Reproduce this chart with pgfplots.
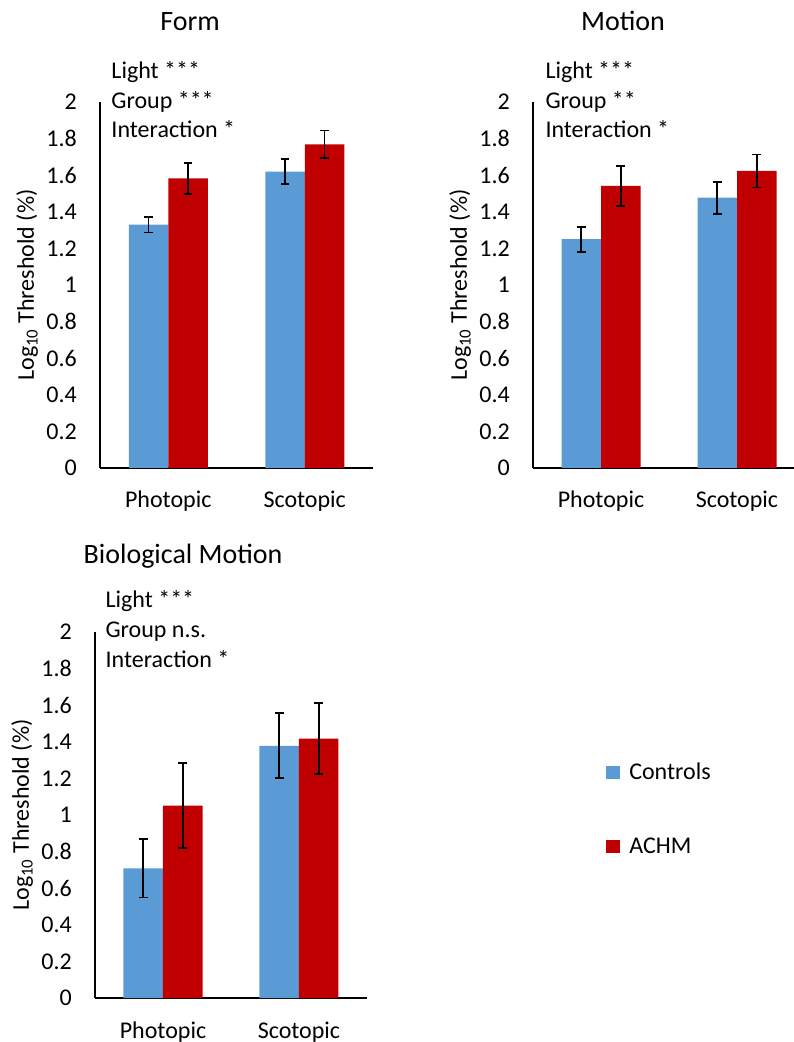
\documentclass[border=0pt]{standalone}
\usepackage{fontspec}
\setmainfont{Carlito}
\usepackage{pgfplots}
\pgfplotsset{compat=1.18}
\usepackage{pgfplotstable}

\definecolor{ctrl}{HTML}{5B9BD5}
\definecolor{achm}{HTML}{C00000}

% Form
\pgfplotstableread{
x y e
0 1.330 0.043
1 1.620 0.067
}\formC
\pgfplotstableread{
x y e
0 1.583 0.085
1 1.769 0.075
}\formA
% Motion
\pgfplotstableread{
x y e
0 1.250 0.068
1 1.477 0.087
}\motC
\pgfplotstableread{
x y e
0 1.541 0.110
1 1.623 0.090
}\motA
% Biological motion
\pgfplotstableread{
x y e
0 0.709 0.160
1 1.378 0.178
}\bioC
\pgfplotstableread{
x y e
0 1.051 0.233
1 1.418 0.196
}\bioA

\newcommand{\fs}{\fontsize{24}{29}\selectfont}
\newcommand{\ft}{\fontsize{28}{34}\selectfont}

\pgfplotsset{
  panel/.style={
    scale only axis, width=272pt, height=366pt, anchor=south west,
    xmin=-0.5, xmax=1.5, ymin=0, ymax=2,
    axis x line*=bottom, axis y line*=left,
    axis line style={-, line width=1.6pt, black},
    ytick={0,0.2,0.4,0.6,0.8,1,1.2,1.4,1.6,1.8,2},
    xtick={0,1}, xticklabels={Photopic,Scotopic},
    tick style={draw=none}, major tick length=0pt,
    tick label style={font=\fs},
    yticklabel style={anchor=east, inner sep=0pt, xshift=-23pt},
    xticklabel style={anchor=base, inner sep=0pt, yshift=-40pt},
    ylabel={Log\textsubscript{10} Threshold (\%)},
    ylabel style={font=\fs, anchor=center},
    title style={font=\ft, anchor=base},
    ybar=0pt, bar width=39.5pt,
    clip=false,
    /pgf/number format/assume math mode=true,
  },
  bars/.style={fill=#1, draw=none,
    error bars/.cd, y dir=both, y explicit,
    error bar style={line width=1.8pt, black},
    error mark options={rotate=90, line width=1.8pt, mark size=4.3pt, black}},
  sqleg/.style={legend image code/.code={\fill[##1] (0pt,-6.5pt) rectangle (14pt,6.5pt);}},
}

\begin{document}
\begin{tikzpicture}
\useasboundingbox (0,0) rectangle (793pt,1042pt);

% Form
\begin{axis}[panel, at={(100pt,574pt)}, width=273pt,
  title={Form}, title style={at={(axis description cs:0.33,1.178)}},
  ylabel style={at={(axis description cs:-0.267,0.5)}}]
\addplot[bars=ctrl] table[x=x, y=y, y error=e] {\formC};
\addplot[bars=achm] table[x=x, y=y, y error=e] {\formA};
\node[anchor=base west, font=\fs] at (axis description cs:0.029,1.063) {Light ***};
\node[anchor=base west, font=\fs] at (axis description cs:0.029,0.981) {Group ***};
\node[anchor=base west, font=\fs] at (axis description cs:0.029,0.902) {Interaction *};
\end{axis}

% Motion
\begin{axis}[panel, at={(533pt,574pt)},
  title={Motion}, title style={at={(axis description cs:0.331,1.178)}},
  ylabel style={at={(axis description cs:-0.268,0.5)}}]
\addplot[bars=ctrl] table[x=x, y=y, y error=e] {\motC};
\addplot[bars=achm] table[x=x, y=y, y error=e] {\motA};
\node[anchor=base west, font=\fs] at (axis description cs:0.033,1.063) {Light ***};
\node[anchor=base west, font=\fs] at (axis description cs:0.033,0.981) {Group **};
\node[anchor=base west, font=\fs] at (axis description cs:0.033,0.902) {Interaction *};
\end{axis}

% Biological Motion
\begin{axis}[panel, at={(95pt,44pt)},
  title={Biological Motion}, title style={at={(axis description cs:0.324,1.172)}},
  ylabel style={at={(axis description cs:-0.268,0.5)}},
  legend style={at={(axis description cs:1.879,0.516)}, anchor=west,
    draw=none, fill=none, inner sep=0pt, row sep=53pt, font=\fs,
    /tikz/every odd column/.append style={column sep=7pt}},
  legend cell align=left]
\addplot[sqleg, bars=ctrl] table[x=x, y=y, y error=e] {\bioC};
\addlegendentry{Controls}
\addplot[sqleg, bars=achm] table[x=x, y=y, y error=e] {\bioA};
\addlegendentry{ACHM}
\node[anchor=base west, font=\fs] at (axis description cs:0.026,1.066) {Light ***};
\node[anchor=base west, font=\fs] at (axis description cs:0.026,0.984) {Group n.s.};
\node[anchor=base west, font=\fs] at (axis description cs:0.026,0.904) {Interaction *};
\end{axis}
\end{tikzpicture}
\end{document}
